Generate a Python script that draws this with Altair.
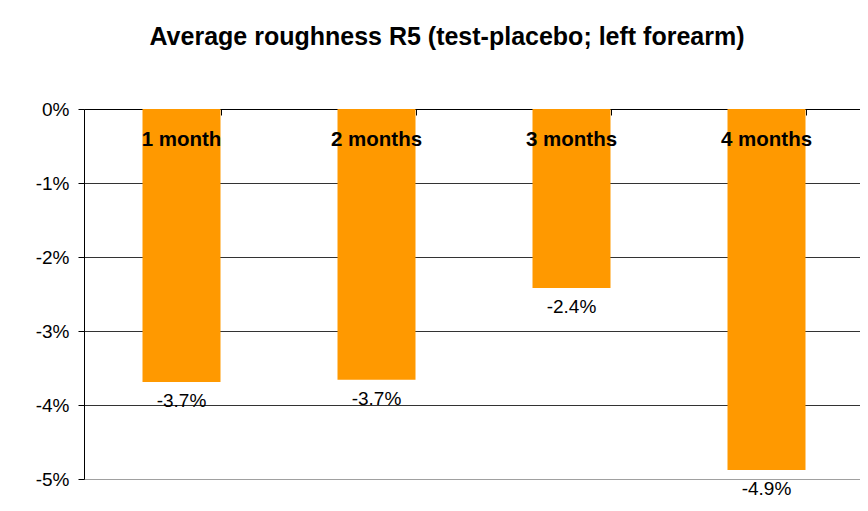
import altair as alt
import pandas as pd

categories = ["1 month", "2 months", "3 months", "4 months"]
values = [-0.0369, -0.0366, -0.0242, -0.0488]
value_labels = ["-3.7%", "-3.7%", "-2.4%", "-4.9%"]
y_ticks = [0, -0.01, -0.02, -0.03, -0.04, -0.05]

df = pd.DataFrame({"period": categories, "change": values, "label": value_labels})

FONT = "Liberation Sans"

x_enc = alt.X(
    "period:N",
    sort=categories,
    scale=alt.Scale(paddingInner=0.6, paddingOuter=0.3),
    axis=alt.Axis(
        orient="bottom", offset=-370, labels=False, title=None,
        tickBand="extent", domainColor="black", tickColor="black",
        tickSize=6, grid=False,
    ),
)
y_enc = alt.Y(
    "change:Q",
    scale=alt.Scale(domain=[-0.05, 0], nice=False),
    axis=alt.Axis(
        values=y_ticks, title=None, grid=True,
        gridColor={"condition": {"test": "datum.value < -0.049", "value": "#a0a0a0"},
                   "value": "#333333"},
        gridOpacity=1, domainColor="black", tickColor="black", tickSize=6,
        labelPadding=9, labelFontSize=19, labelColor="black", labelFont=FONT,
        labelExpr="(datum.value < 0 ? '-' : '') + format(abs(datum.value), '.0%')",
    ),
)

base = alt.Chart(df)

bars = base.mark_bar(color="#FF9900").encode(x=x_enc, y=y_enc)

value_text = base.mark_text(
    font=FONT, fontSize=19, color="black", baseline="middle", dy=19
).encode(x=alt.X("period:N", sort=categories), y="change:Q", text="label:N")

cat_text = base.mark_text(
    font=FONT, fontSize=20.5, fontWeight="bold", color="black", baseline="middle", dy=31
).encode(x=alt.X("period:N", sort=categories), y=alt.datum(0), text="period:N")

chart = (
    alt.layer(bars, value_text, cat_text)
    .properties(
        width=780,
        height=370,
        autosize="none",
        padding={"left": 76, "top": 101, "right": -4, "bottom": 19},
        title=alt.Title(
            "Average roughness R5 (test-placebo; left forearm)",
            font=FONT, fontSize=25, fontWeight="bold", color="black",
            anchor="middle", dx=-27, offset=50,
        ),
    )
    .configure_view(stroke="#a0a0a0", strokeWidth=1)
    .configure(background="white")
)

chart.save("out.html", embed_options={"renderer": "svg", "actions": False})
